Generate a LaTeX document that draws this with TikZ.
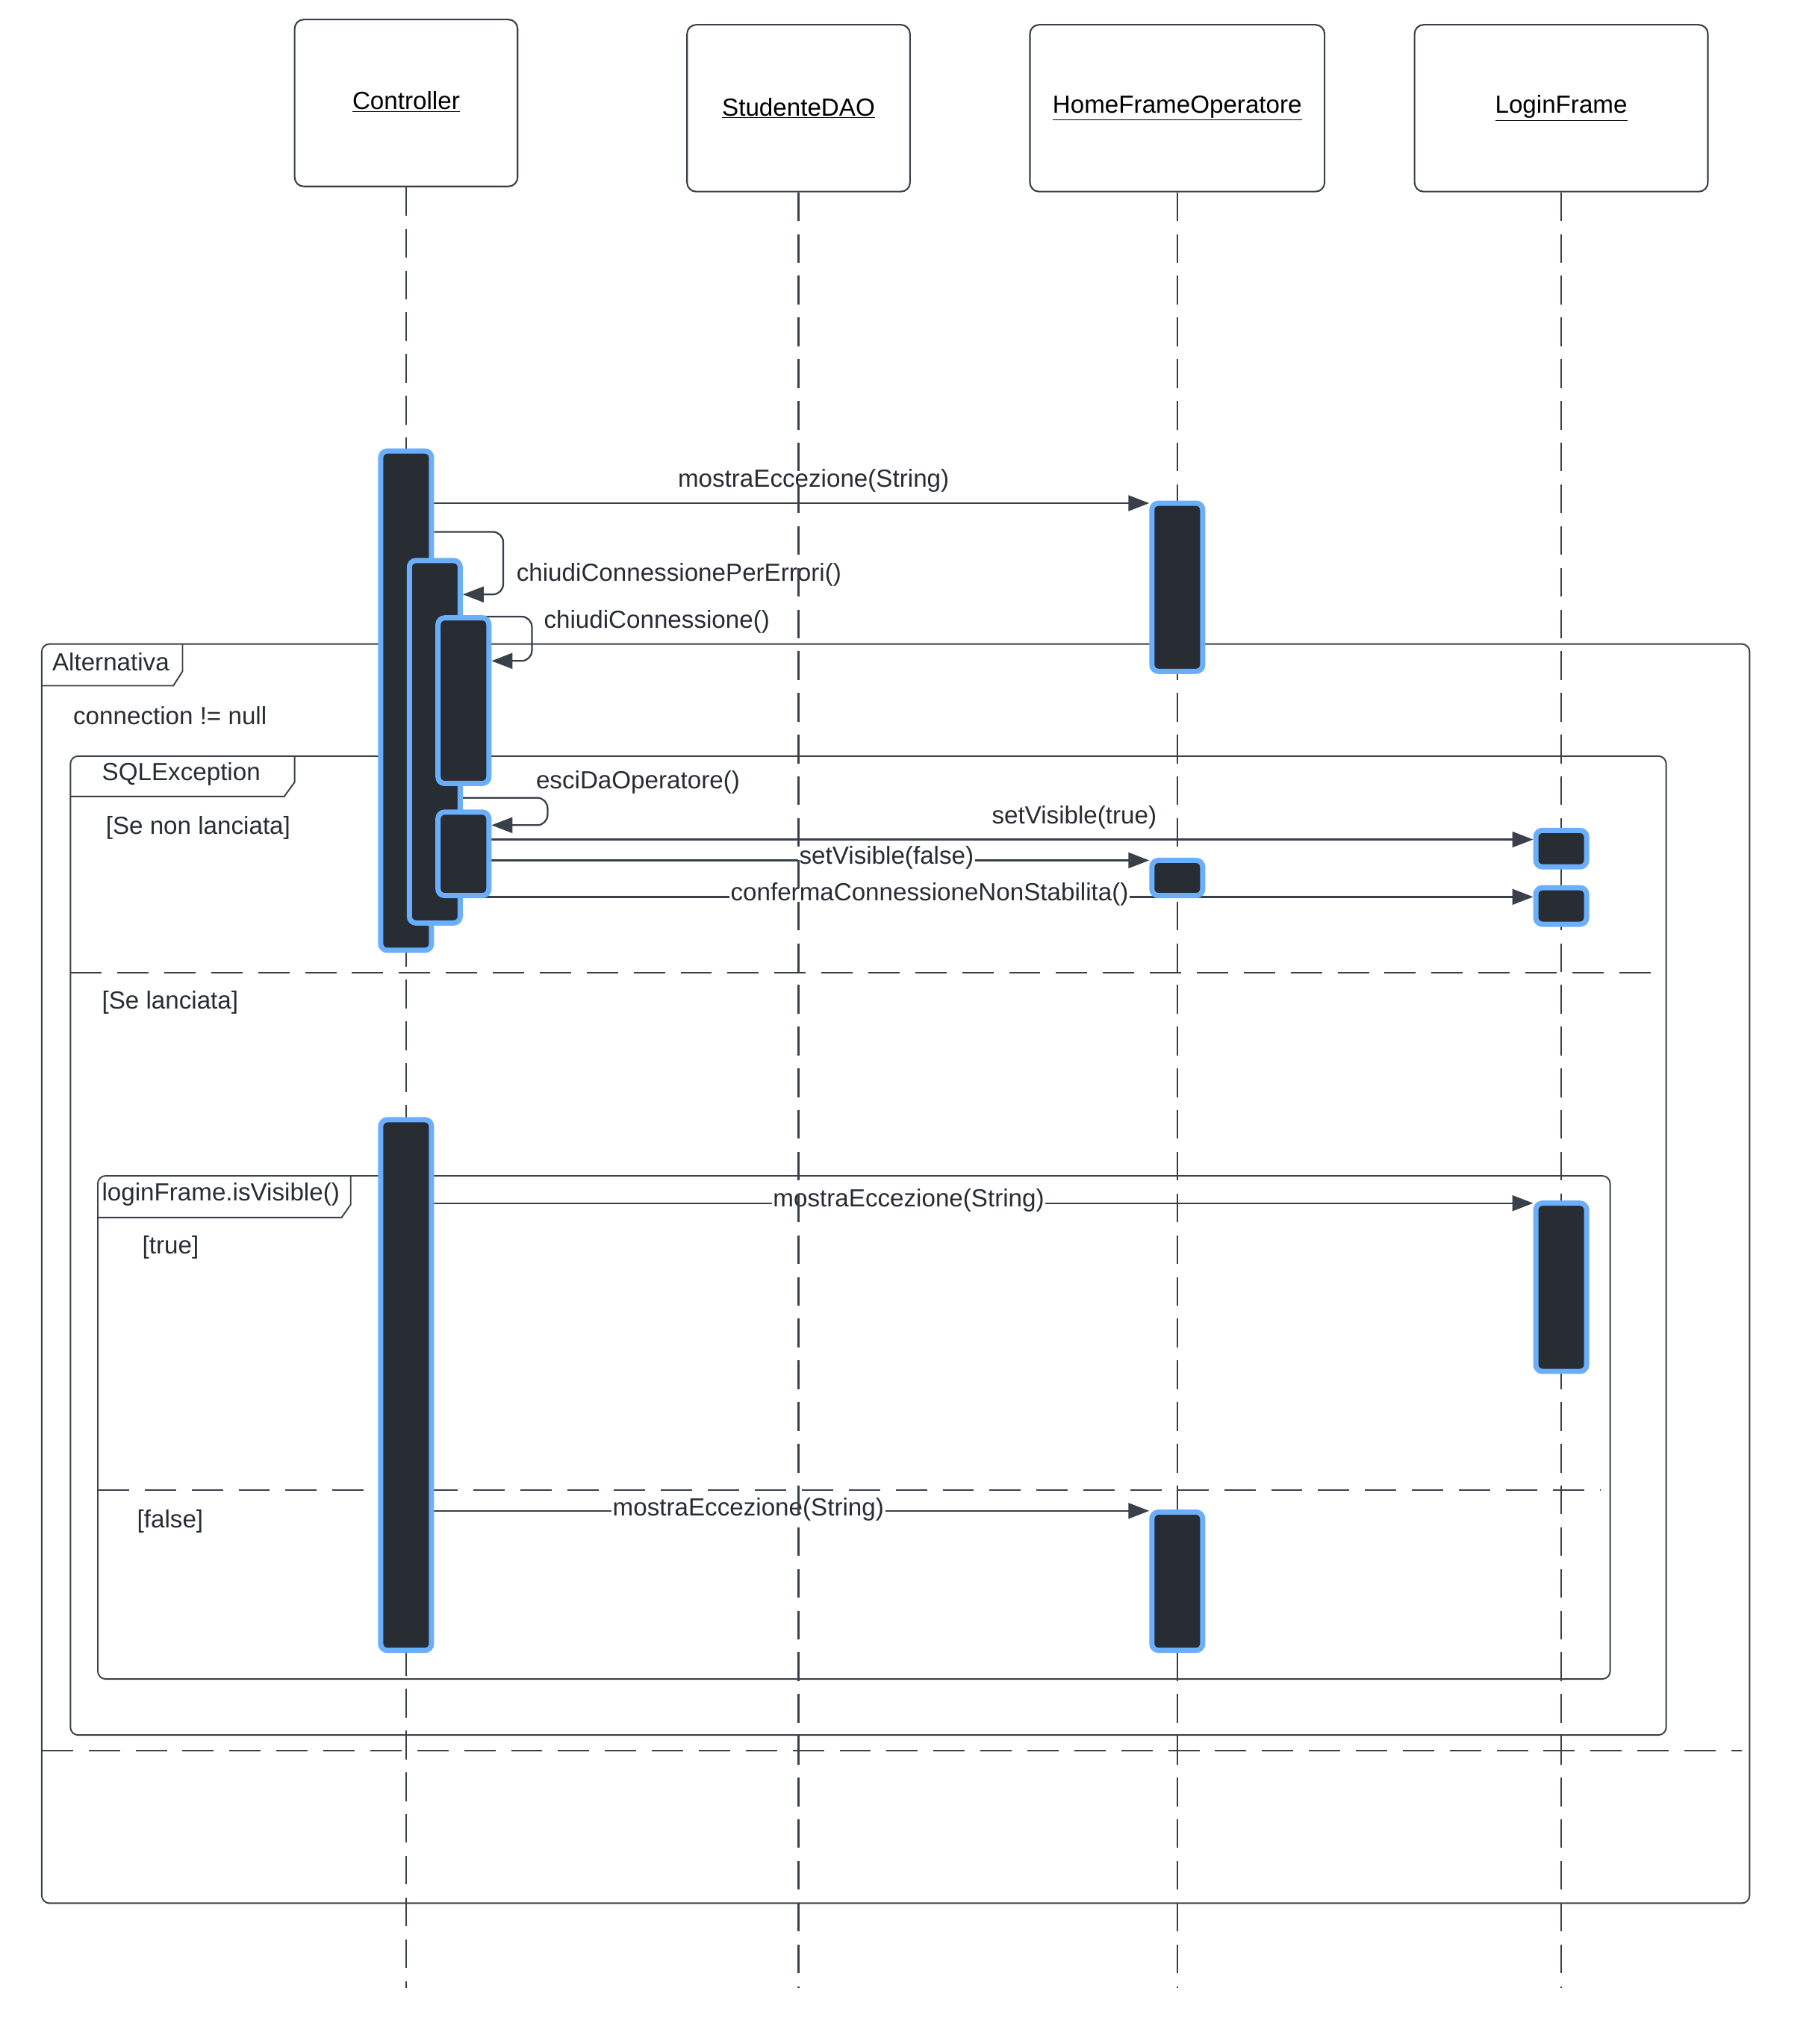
\documentclass[tikz,border=0pt]{standalone}
\usepackage{fontspec}
\setmainfont{Liberation Sans}
\usetikzlibrary{arrows.meta,calc}
\definecolor{ink}{RGB}{40,45,52}
\definecolor{linec}{RGB}{58,64,74}
\definecolor{actfill}{RGB}{40,44,51}
\definecolor{actblue}{RGB}{106,174,252}
\begin{document}
\begin{tikzpicture}[x=1pt,y=-1pt,
  font=\fontsize{19}{23}\selectfont,
  head/.style={draw=linec, line width=1.2pt, rounded corners=7pt, minimum height=128pt, fill=white, text=black, inner sep=0pt},
  act/.style={draw=actblue, fill=actfill, line width=4pt, rounded corners=5pt, minimum width=39pt, inner sep=0pt},
  life/.style={draw=linec, line width=1.1pt, dash pattern=on 22pt off 10pt},
  msg/.style={draw=linec, line width=1.3pt, -{Triangle[length=16pt,width=12pt]}},
  lab/.style={text=ink, inner sep=1pt},
  onlab/.style={lab, fill=white},
  frm/.style={draw=linec, line width=1.1pt, rounded corners=6pt},
  tab/.style={draw=linec, line width=1.1pt},
  sep/.style={draw=linec, line width=1.1pt, dash pattern=on 24pt off 12pt}]
\useasboundingbox (0,0) rectangle (1394,1568);
\fill[white] (0,0) rectangle (1394,1568);

% ---- frames ----
\draw[frm] (32,494) rectangle (1342,1460);
\draw[tab] (32,526) -- (133,526) -- (140,515) -- (140,494);
\node[lab] (altlab) at (85,508) {Alternativa};
\draw[sep] (32,1343) -- (1336,1343);
\node[lab, anchor=west] (cond) at (55,549) {connection != null};

\draw[frm] (54,580) rectangle (1278,1331);
\draw[tab] (54,611) -- (218,611) -- (226,600) -- (226,580);
\node[lab] (sqllab) at (139,594) {SQLException};
\draw[sep] (54,746) -- (1278,746);
\node[lab, anchor=west] (g1) at (80,635) {[Se non lanciata]};
\node[lab, anchor=west] (g2) at (77,769) {[Se lanciata]};

\draw[frm] (75,902) rectangle (1235,1288);
\draw[tab] (75,934) -- (262,934) -- (269,924) -- (269,902);
\node[lab, anchor=west] (loglab) at (77,916) {loginFrame.isVisible()};
\draw[sep] (75,1143) -- (1228,1143);
\node[lab, anchor=west] (g3) at (108,957) {[true]};
\node[lab, anchor=west] (g4) at (104,1167) {[false]};

% ---- heads ----
\node[head, minimum width=171pt] (ctrl) at (311.5,79) {\raisebox{4pt}{\underline{Controller}}};
\node[head, minimum width=171pt] (dao) at (612.5,83) {\raisebox{1pt}{\underline{StudenteDAO}}};
\node[head, minimum width=226pt] (hfo) at (903,83) {\raisebox{1pt}{\underline{HomeFrameOperatore}}};
\node[head, minimum width=225pt] (login) at (1197.5,83) {\raisebox{1pt}{\underline{LoginFrame}}};

\coordinate (bottom) at (0,1525);

% message rows
\coordinate (m1) at (0,386);
\coordinate (m2a) at (0,408);
\coordinate (m2b) at (0,456);
\coordinate (m3a) at (0,473);
\coordinate (m3b) at (0,507);
\coordinate (m4a) at (0,612);
\coordinate (m4b) at (0,633);
\coordinate (m5) at (0,644);
\coordinate (m6) at (0,660);
\coordinate (m7) at (0,688);
\coordinate (m8) at (0,923);
\coordinate (m9) at (0,1159);

% invisible activation nodes for anchors
\begin{scope}
\node[act, draw=none, fill=none, minimum height=383pt] (c1) at (311.5,537.5) {};
\node[act, draw=none, fill=none, minimum height=278pt] (c2) at (333.5,569) {};
\node[act, draw=none, fill=none, minimum height=127pt] (c3) at (355.5,537.5) {};
\node[act, draw=none, fill=none, minimum height=64pt] (c4) at (355.5,655) {};
\node[act, draw=none, fill=none, minimum height=129pt] (h1) at (903,450.5) {};
\node[act, draw=none, fill=none, minimum height=28pt] (l1) at (1197.5,651) {};
\node[act, draw=none, fill=none, minimum height=27pt] (h2) at (903,673.5) {};
\node[act, draw=none, fill=none, minimum height=28pt] (l2) at (1197.5,695) {};
\node[act, draw=none, fill=none, minimum height=407pt] (c5) at (311.5,1062.5) {};
\node[act, draw=none, fill=none, minimum height=129pt] (l3) at (1197.5,987.5) {};
\node[act, draw=none, fill=none, minimum height=106pt] (h3) at (903,1213) {};
\end{scope}

% ---- messages ----
\draw[msg] (c1.east |- m1) -- (h1.west |- m1);
\node[lab] (t1) at (624,369) {mostraEccezione(String)};

\draw[msg, rounded corners=8pt] (c1.east |- m2a) -- (386,408) -- (386,456) -- (c2.east |- m2b);
\node[lab, anchor=west] (t2) at (395,441) {chiudiConnessionePerErrori()};

\draw[msg, rounded corners=8pt] (c2.east |- m3a) -- (408,473) -- (408,507) -- (c3.east |- m3b);
\node[lab, anchor=west] (t3) at (416,477) {chiudiConnessione()};

\draw[msg, rounded corners=8pt] (c2.east |- m4a) -- (420,612) -- (420,633) -- (c4.east |- m4b);
\node[lab, anchor=west] (t4) at (410,600) {esciDaOperatore()};

\draw[msg] (c4.east |- m5) -- (l1.west |- m5);
\node[lab] (t5) at (824,627) {setVisible(true)};

\draw[msg] (c4.east |- m6) -- (h2.west |- m6);
\node[onlab] (t6) at (680,658) {setVisible(false)};

\draw[msg] (c2.east |- m7) -- (l2.west |- m7);
\node[onlab] (t7) at (713,686) {confermaConnessioneNonStabilita()};

\draw[msg] (c5.east |- m8) -- (l3.west |- m8);
\node[onlab] (t8) at (697,921) {mostraEccezione(String)};

\draw[msg] (c5.east |- m9) -- (h3.west |- m9);
\node[onlab] (t9) at (574,1158) {mostraEccezione(String)};

% ---- lifelines ----
\draw[life] (ctrl.south) -- (ctrl.south |- bottom);
\draw[life, line width=1.8pt] (dao.south) -- (dao.south |- bottom);
\draw[life] (hfo.south) -- (hfo.south |- bottom);
\draw[life] (login.south) -- (login.south |- bottom);

% ---- activations drawn ----
\node[act, minimum height=383pt] (a1) at (c1) {};
\node[act, minimum height=278pt] (a2) at (c2) {};
\node[act, minimum height=127pt] (a3) at (c3) {};
\node[act, minimum height=64pt] (a4) at (c4) {};
\node[act, minimum height=129pt] (b1) at (h1) {};
\node[act, minimum height=28pt] (d1) at (l1) {};
\node[act, minimum height=27pt] (b2) at (h2) {};
\node[act, minimum height=28pt] (d2) at (l2) {};
\node[act, minimum height=407pt] (a5) at (c5) {};
\node[act, minimum height=129pt] (d3) at (l3) {};
\node[act, minimum height=106pt] (b3) at (h3) {};
\end{tikzpicture}
\end{document}
